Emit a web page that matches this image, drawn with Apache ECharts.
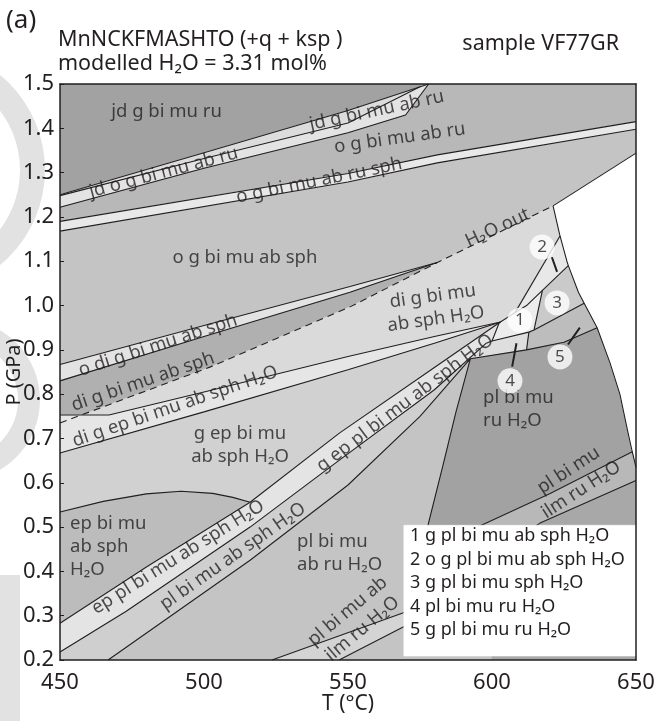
<!DOCTYPE html>
<html>
<head>
<meta charset="utf-8">
<script src="https://cdn.jsdelivr.net/npm/echarts@6/dist/echarts.min.js"></script>
<style>
html,body{margin:0;padding:0;background:#fff;}
#pseudoID{width:657px;height:721px;}
</style>
</head>
<body>
<div id="pseudoID"></div>
<script>
// axes
var tRange = [450, 650];
var pRange = [0.2, 1.5];

// boundary lines, [T (°C), P (GPa)]
var lineL1 = [[450,1.25],[500,1.345],[550,1.44],[578,1.5]];
var lineL2 = [[450,1.248],[500,1.332],[550,1.412],[575,1.494]];
var lineL3 = [[450,1.222],[500,1.31],[550,1.39],[570,1.43],[578,1.5]];
var lineL4 = [[450,1.19],[550,1.298],[581,1.34],[650,1.415]];
var lineL5 = [[450,1.168],[550,1.279],[581,1.322],[650,1.398]];
var lineWTop = [[621.2,1.225],[650,1.344]];
var lineWCurve = [[621.2,1.225],[623.5,1.16],[626,1.10],[626.5,1.09],[630,1.03],[632,1.005],[636.5,0.95],[641,0.87],[644.4,0.80],[647,0.72],[648.7,0.67],[650,0.635]];
var lineUa = [[450,0.867],[500,0.955],[550.7,1.043],[581,1.097]];
var lineUb = [[450,0.83],[500,0.93],[550.7,1.03],[581,1.097]];
var lineH2Oout = [[450,0.735],[502,0.861],[550.7,0.997],[581,1.097],[621.2,1.225]];
var lineEa = [[450,0.753],[467,0.753],[500,0.805],[550,0.885],[580,0.93],[603,0.963]];
var lineEb = [[450,0.667],[500,0.76],[550,0.855],[580,0.915],[603,0.963]];
var lineA = [[450,0.283],[480,0.41],[516,0.556],[547,0.712],[580,0.86],[602.5,0.961],[603,0.963],[608,0.984],[612,1.0],[617.5,1.034],[626.5,1.09]];
var lineGout = [[450,0.534],[465,0.558],[480,0.575],[492,0.581],[503,0.576],[510,0.567],[516,0.556]];
var lineB = [[450,0.218],[473,0.31],[516,0.50],[547,0.651],[580,0.81],[598,0.915]];
var lineC = [[466.7,0.2],[516,0.425],[550,0.595],[575,0.75],[592.5,0.88]];
var lineC6 = [[598,0.915],[600,0.92],[612.8,0.94],[614.6,0.945],[632,1.005]];
var lineC4 = [[592.5,0.88],[612,0.9],[625,0.917],[636.5,0.95]];
var lineS = [[592.5,0.88],[587.5,0.76],[583,0.64],[578,0.51],[576,0.45]];
var lineI1 = [[576,0.45],[595,0.50],[620,0.575],[648.7,0.67]];
var lineI2 = [[600,0.44],[616.7,0.509],[650,0.605]];
var lineM1 = [[523.6,0.2],[569,0.306],[590,0.36]];
var lineM2 = [[546.9,0.2],[569,0.274],[590,0.33]];
var lineST2 = [[614.6,0.945],[617.5,1.034]];
var lineEPO = [[600,0.92],[602.5,0.961]];
var lineST3 = [[612,0.9],[612.8,0.94]];
var lineC7 = [[608,0.984],[623.6,1.157]];

// field labels
var fieldText = ['jd g bi mu ru','jd g bi mu ab ru','jd o g bi mu ab ru','o g bi mu ab ru','o g bi mu ab ru sph',
  'o g bi mu ab sph','o di g bi mu ab sph','di g bi mu ab sph','di g ep bi mu ab sph H₂O','g ep bi mu\nab sph H₂O',
  'di g bi mu\nab sph H₂O','H₂O out','ep bi mu\nab sph\nH₂O','ep pl bi mu ab sph H₂O','pl bi mu ab sph H₂O',
  'g ep pl bi mu ab sph H₂O','pl bi mu\nab ru H₂O','pl bi mu\nru H₂O','pl bi mu\nilm ru H₂O','pl bi mu ab\nilm ru H₂O'];
var fieldPos = [[487,1.437],[560,1.44],[486,1.30],[568,1.378],[540,1.282],
  [514.2,1.107],[484,0.91],[478.8,0.828],[490,0.772],[512.5,0.685],
  [580,0.995],[602,1.175],[453.5,0.455],[491,0.432],[510,0.434],
  [569.8,0.78],[532.3,0.441],[596.9,0.765],[628.8,0.606],[552.4,0.29]];
var fieldRot = [0,12,15,8,11.6, 0,18,18.8,19,0, 8,25,0,32,35, 37,0,0,33,40];
var fieldAlign = ['c','c','c','c','c','c','c','c','c','c','c','c','l','c','c','c','l','l','c','c'];

// small numbered fields
var numText = ['1','2','3','4','5'];
var numPos = [[609.7,0.967],[617.4,1.132],[622.6,1.006],[606.25,0.83],[623.6,0.884]];
var numTicks = [[[620.8,1.109],[622.6,1.076]],[[607,0.862],[608.5,0.915]],[[626.4,0.912],[630.5,0.95]]];

var legendLines = ['1 g pl bi mu ab sph H₂O','2 o g pl bi mu ab sph H₂O','3 g pl bi mu sph H₂O','4 pl bi mu ru H₂O','5 g pl bi mu ru H₂O'];
var legendBox = [[569.4,0.209],[650,0.209],[650,0.504],[569.4,0.504]];

var FONT = "'Noto Sans','DejaVu Sans',sans-serif";
var INK = '#231f20';

function rev(a){ return a.slice().reverse(); }
function upto(a, t){ return a.filter(function(p){ return p[0] <= t; }); }
function from(a, t){ return a.filter(function(p){ return p[0] >= t; }); }

// fields, painted in order
var fields = [
	[[[450,0.2],[650,0.2],[650,1.5],[450,1.5]], '#c4c4c4'],
	[[[450,1.5]].concat(lineL1), '#a2a2a2'],
	[lineL1.concat(rev(lineL2)), '#dcdcdc'],
	[lineL3.concat(rev(lineL2)), '#e3e3e3'],
	[lineL3.concat([[650,1.5]], rev(lineL4)), '#b8b8b8'],
	[lineL4.concat(rev(lineL5)), '#e8e8e8'],
	[lineUa.concat(rev(lineUb)), '#e3e3e3'],
	[lineUb.concat(rev(upto(lineH2Oout,581))), '#b0b0b0'],
	[lineH2Oout.concat([[623.5,1.16],[626,1.10],[626.5,1.09]], rev(from(lineA,516)), rev(lineGout)), '#dadada'],
	[lineEa.concat(rev(lineEb)), '#e6e6e6'],
	[lineEb.concat(rev(from(upto(lineA,603),516)), rev(lineGout)), '#d1d1d1'],
	[[[450,0.283],[480,0.41],[516,0.556]].concat(rev(lineGout)), '#bcbcbc'],
	[upto(lineA,580).concat([[602.5,0.961],[600,0.92],[598,0.915]], rev(lineB)), '#e4e4e4'],
	[[[600,0.92],[602.5,0.961],[603,0.963],[608,0.984],[612,1.0],[617.5,1.034],[614.6,0.945],[612.8,0.94]], '#ececec'],
	[[[614.6,0.945],[617.5,1.034],[626.5,1.09],[630,1.03],[632,1.005]], '#cacaca'],
	[[[608,0.984],[623.6,1.157],[626,1.10],[626.5,1.09],[612,1.0]], '#e8e8e8'],
	[lineB.concat(rev(lineC), [[450,0.2]]), '#cfcfcf'],
	[[[592.5,0.88],[612,0.9],[612.8,0.94],[600,0.92],[598,0.915]], '#dedede'],
	[[[612,0.9],[625,0.917],[636.5,0.95],[632,1.005],[614.6,0.945],[612.8,0.94]], '#bdbdbd'],
	[lineC4.concat([[641,0.87],[644.4,0.80],[647,0.72],[648.7,0.67]], rev(lineI1), rev(lineS)), '#a2a2a2'],
	[lineI1.concat([[650,0.635],[650,0.605]], rev(lineI2)), '#b8b8b8'],
	[lineI2.concat([[650,0.2],[600,0.2]]), '#a8a8a8'],
	[lineM1.concat(rev(lineM2)), '#d4d4d4'],
	[lineWTop.concat([[650,0.635]], rev(lineWCurve)), '#ffffff']
];

var boundaries = [lineL1,lineL2,lineL3,lineL4,lineL5,lineWTop,lineWCurve,lineUa,lineUb,lineEa,lineEb,lineA,lineGout,
	lineB,lineC,lineC6,lineC4,lineS,lineI1,lineI2,lineM1,lineM2,lineST2,lineEPO,lineST3,lineC7];

function polySeries(pts, color, z){
	return {
		type: 'custom',
		coordinateSystem: 'cartesian2d',
		silent: true,
		clip: true,
		z: z,
		data: [pts[0]],
		renderItem: function(params, api){
			var p = pts.map(function(v){ return api.coord(v); });
			return {type: 'polygon', shape: {points: p}, style: {fill: color, stroke: color, lineWidth: 0.6}};
		}
	};
}

function lineSeries(pts, dashed){
	return {
		type: 'line',
		silent: true,
		symbol: 'none',
		z: 3,
		data: pts,
		lineStyle: {color: INK, width: 1.1, type: dashed ? [7, 5] : 'solid'}
	};
}

var series = [];
fields.forEach(function(f){ series.push(polySeries(f[0], f[1], 1)); });
boundaries.forEach(function(b){ series.push(lineSeries(b, false)); });
series.push(lineSeries(lineH2Oout, true));
numTicks.forEach(function(t){
	var s = lineSeries(t, false);
	s.z = 5; s.lineStyle.width = 2;
	series.push(s);
});
series.push(polySeries(legendBox, '#ffffff', 4));

// field labels
series.push({
	type: 'scatter',
	silent: true,
	symbolSize: 0,
	z: 6,
	data: fieldText.map(function(txt, i){
		return {
			value: fieldPos[i],
			label: {
				show: true,
				position: 'inside',
				formatter: txt,
				rotate: fieldRot[i],
				align: fieldAlign[i] == 'l' ? 'left' : 'center',
				verticalAlign: 'middle',
				color: INK,
				fontFamily: FONT,
				fontSize: 18.5,
				lineHeight: 23
			}
		};
	})
});

// numbered circles
series.push({
	type: 'scatter',
	silent: true,
	symbol: 'circle',
	symbolSize: 25,
	z: 7,
	itemStyle: {color: '#ffffff'},
	label: {show: true, position: 'inside', color: INK, fontFamily: FONT, fontSize: 17,
		formatter: function(p){ return numText[p.dataIndex]; }},
	data: numPos
});

var axisText = {color: INK, fontFamily: FONT, fontSize: 21};
var option = {
	animation: false,
	backgroundColor: '#ffffff',
	grid: {left: 60, right: 21, top: 84, bottom: 61, containLabel: false, outerBoundsMode: 'none'},
	xAxis: [{
		type: 'value', min: tRange[0], max: tRange[1], interval: 50, z: 10,
		axisLine: {show: true, onZero: false, lineStyle: {color: INK, width: 1.5}},
		axisTick: {show: false},
		splitLine: {show: false},
		axisLabel: {margin: 12, color: INK, fontFamily: FONT, fontSize: 22},
		name: 'T (°C)', nameLocation: 'middle', nameGap: 34, nameMoveOverlap: false, nameTextStyle: axisText
	}, {
		type: 'value', position: 'top', min: tRange[0], max: tRange[1], z: 10,
		axisLine: {show: true, onZero: false, lineStyle: {color: INK, width: 1.5}},
		axisTick: {show: false}, axisLabel: {show: false}, splitLine: {show: false}
	}],
	yAxis: [{
		type: 'value', min: pRange[0], max: pRange[1], interval: 0.1, z: 10,
		axisLine: {show: true, onZero: false, lineStyle: {color: INK, width: 1.5}},
		axisTick: {show: true, inside: true, length: 4, lineStyle: {color: INK}},
		splitLine: {show: false},
		axisLabel: {margin: 6, color: INK, fontFamily: FONT, fontSize: 22,
			formatter: function(v){ return v.toFixed(1); }},
		name: 'P (GPa)', nameLocation: 'middle', nameGap: 36, nameMoveOverlap: false,
		nameTextStyle: {color: INK, fontFamily: FONT, fontSize: 20}
	}, {
		type: 'value', position: 'right', min: pRange[0], max: pRange[1], z: 10,
		axisLine: {show: true, onZero: false, lineStyle: {color: INK, width: 1.5}},
		axisTick: {show: false}, axisLabel: {show: false}, splitLine: {show: false}
	}],
	graphic: [
		// faint marks in the left margin of the scan
		{type: 'ring', z: -1, shape: {cx: -78, cy: 170, r: 123, r0: 98}, style: {fill: '#e2e2e2'}},
		{type: 'ring', z: -1, shape: {cx: -41, cy: 400, r: 81, r0: 59}, style: {fill: '#e2e2e2'}},
		{type: 'rect', z: -1, shape: {x: 0, y: 575, width: 20, height: 146}, style: {fill: '#e2e2e2'}},
		{type: 'text', left: 6, top: 8, z: 20, style: {text: '(a)', fill: INK, font: '26px ' + FONT}},
		{type: 'text', left: 58, top: 29, z: 20, style: {text: 'MnNCKFMASHTO (+q + ksp )', fill: INK, font: '21.5px ' + FONT}},
		{type: 'text', left: 58, top: 53, z: 20, style: {text: 'modelled H₂O = 3.31 mol%', fill: INK, font: '21.5px ' + FONT}},
		{type: 'text', right: 38, top: 33, z: 20, style: {text: 'sample VF77GR', fill: INK, font: '21.5px ' + FONT}}
	].concat(legendLines.map(function(t, i){
		return {type: 'text', left: 410, top: 527 + i * 23.5, z: 20, style: {text: t, fill: INK, font: '18px ' + FONT}};
	})),
	series: series
};

var pseudo_graphID = echarts.init(document.getElementById('pseudoID'));
pseudo_graphID.setOption(option);
</script>
</body>
</html>
